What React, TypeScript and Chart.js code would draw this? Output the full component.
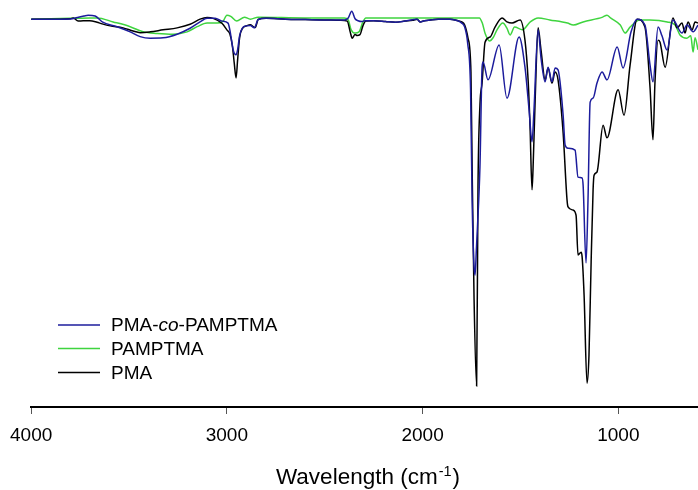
import { useEffect, useRef } from "react";
import { Chart, registerables } from "chart.js";

Chart.register(...registerables);

const FONT = '"Liberation Sans", Arial, Helvetica, sans-serif';

const xTicks = [4000, 3000, 2000, 1000];
const seriesNames = ["PMA-co-PAMPTMA", "PAMPTMA", "PMA"];
const seriesColors = ["#1c1c9c", "#3fd43f", "#000000"];
const axisTitle = "Wavelength (cm";
const axisTitleSup = "-1";

// PMA-co-PAMPTMA (blue)
const copolyWn = [
  4000, 3850, 3790, 3765, 3730, 3709, 3673, 3637, 3561, 3494, 3443, 3392, 3326, 3254, 3188, 3137,
  3101, 3060, 3024, 2994, 2983, 2968, 2953, 2945, 2935, 2920, 2900, 2880, 2860, 2840, 2800, 2700,
  2600, 2500, 2400, 2380, 2362, 2345, 2330, 2310, 2295, 2250, 2190, 2140, 2090, 2028, 2013, 1990,
  1920, 1860, 1820, 1800, 1785, 1770, 1755, 1747, 1738, 1732, 1725, 1720, 1707, 1696, 1691, 1666,
  1609, 1569, 1507, 1477, 1456, 1441, 1431, 1410, 1395, 1374, 1359, 1339, 1323, 1308, 1282, 1272,
  1257, 1221, 1206, 1185, 1180, 1165, 1155, 1144, 1129, 1109, 1083, 1058, 1006, 976, 935, 904,
  864, 838, 823, 797, 777, 751, 721, 675, 649, 618, 593,
];
const copolyT = [
  97.7, 97.7, 97.8, 98.1, 98.5, 98.7, 98.5, 97.0, 95.8, 94.5, 93.3, 92.9, 93.0, 93.9, 95.4, 97.0,
  97.9, 97.9, 97.2, 96.7, 94.5, 90.0, 88.7, 90.0, 93.5, 95.5, 96.0, 96.1, 95.5, 97.6, 97.9, 97.7,
  97.6, 97.5, 97.5, 98.0, 99.7, 97.8, 97.3, 97.1, 97.3, 97.3, 97.1, 96.9, 97.2, 97.7, 97.0, 97.3,
  97.7, 97.7, 97.3, 96.7, 95.7, 91.7, 80.0, 52.1, 36.0, 33.2, 40.0, 45.0, 60.5, 85.6, 86.9, 82.4,
  91.2, 77.8, 93.2, 85.6, 74.8, 66.8, 74.8, 95.0, 87.9, 81.9, 85.6, 81.9, 85.4, 84.9, 73.5, 66.0,
  65.2, 64.7, 57.9, 57.7, 55.9, 36.3, 52.1, 76.8, 77.8, 81.6, 84.4, 82.4, 90.7, 85.4, 94.5, 97.7,
  96.2, 86.1, 81.9, 95.7, 93.5, 89.9, 97.5, 94.2, 96.2, 94.5, 96.2,
];

// PAMPTMA (green)
const pamptmaWn = [
  4000, 3800, 3700, 3663, 3581, 3494, 3428, 3356, 3275, 3203, 3152, 3101, 3050, 3019, 3000, 2980,
  2950, 2910, 2880, 2840, 2600, 2400, 2380, 2365, 2345, 2325, 2305, 2290, 2000, 1820, 1710, 1695,
  1680, 1658, 1640, 1620, 1590, 1570, 1553, 1530, 1490, 1450, 1410, 1350, 1260, 1230, 1180, 1080,
  1058, 1040, 990, 965, 940, 890, 840, 750, 710, 685, 650, 630, 618, 608, 593,
];
const pamptmaT = [
  97.7, 97.9, 98.0, 98.0, 97.0, 95.8, 94.5, 94.1, 93.9, 94.5, 95.8, 96.7, 96.7, 97.2, 98.7, 98.4,
  97.2, 98.2, 97.7, 98.2, 98.0, 98.0, 97.5, 95.0, 94.2, 94.5, 97.0, 98.0, 98.0, 98.0, 98.0, 96.7,
  94.0, 92.2, 93.0, 95.0, 96.7, 95.5, 93.7, 95.7, 95.0, 97.0, 98.0, 97.5, 96.7, 96.2, 97.0, 98.2,
  98.7, 98.0, 96.2, 94.2, 95.7, 97.5, 97.5, 97.0, 96.2, 93.7, 92.9, 93.5, 89.4, 93.0, 90.0,
];

// PMA (black)
const pmaWn = [
  4000, 3850, 3800, 3785, 3760, 3734, 3700, 3663, 3637, 3596, 3530, 3479, 3443, 3392, 3326, 3254,
  3188, 3137, 3101, 3070, 3024, 3000, 2985, 2972, 2962, 2953, 2945, 2935, 2920, 2900, 2880, 2865,
  2855, 2840, 2800, 2700, 2600, 2500, 2420, 2385, 2370, 2360, 2345, 2335, 2320, 2305, 2290, 2250,
  2190, 2140, 2090, 2050, 2028, 2013, 1990, 1920, 1860, 1820, 1800, 1785, 1768, 1753, 1747, 1737,
  1724, 1717, 1707, 1696, 1681, 1655, 1630, 1594, 1569, 1543, 1502, 1477, 1461, 1451, 1441, 1436,
  1425, 1410, 1395, 1374, 1359, 1339, 1323, 1308, 1282, 1262, 1257, 1231, 1216, 1206, 1190, 1185,
  1175, 1160, 1150, 1139, 1129, 1124, 1109, 1078, 1058, 1001, 971, 940, 904, 864, 838, 823,
  813, 797, 787, 761, 721, 700, 675, 659, 644, 623, 608, 593,
];
const pmaT = [
  97.7, 97.7, 97.8, 98.0, 97.2, 97.3, 97.3, 96.9, 96.5, 96.0, 95.5, 94.7, 94.3, 94.5, 95.0, 95.5,
  96.4, 97.7, 98.1, 97.9, 96.6, 95.0, 94.0, 91.0, 86.5, 82.9, 87.5, 93.0, 95.4, 96.0, 96.3, 95.8,
  95.6, 97.6, 97.9, 97.7, 97.6, 97.5, 97.4, 97.2, 94.5, 92.9, 93.8, 93.6, 93.8, 96.0, 97.2, 97.3,
  97.1, 96.9, 97.2, 97.4, 97.7, 97.0, 97.3, 97.7, 97.7, 97.3, 97.0, 96.2, 92.9, 84.4, 60.5, 27.0,
  5.3, 55.4, 76.1, 81.6, 91.9, 93.2, 95.7, 98.0, 97.0, 96.7, 97.5, 92.4, 82.4, 70.5, 54.7, 59.7,
  77.3, 95.5, 89.9, 82.4, 85.4, 81.6, 84.4, 82.4, 69.0, 52.1, 50.4, 49.6, 48.3, 38.3, 39.0, 37.8,
  28.2, 6.0, 13.0, 36.5, 54.7, 58.4, 59.2, 71.0, 67.8, 79.9, 73.5, 86.1, 97.7, 95.7, 80.4, 67.3,
  81.6, 92.4, 91.9, 85.6, 98.0, 95.5, 96.7, 94.2, 97.0, 95.0, 97.0, 96.7,
];

const toPoints = (xs: number[], ys: number[]) => xs.map((x, i) => ({ x, y: ys[i] }));

const overlayPlugin = {
  id: "overlay",
  afterDraw(chart: any) {
    const ctx: CanvasRenderingContext2D = chart.ctx;
    ctx.save();
    // Legend
    const legendY = [325, 348.5, 372.5];
    seriesNames.forEach((name, i) => {
      const y = legendY[i];
      ctx.strokeStyle = seriesColors[i];
      ctx.lineWidth = 1.3;
      ctx.beginPath();
      ctx.moveTo(58, y);
      ctx.lineTo(100, y);
      ctx.stroke();
      ctx.fillStyle = "#000";
      ctx.textBaseline = "middle";
      ctx.textAlign = "left";
      let x = 111;
      const parts = name.split(/(-co-)/);
      const segs: [string, boolean][] = [];
      parts.forEach((p) => {
        if (p === "-co-") {
          segs.push(["-", false], ["co", true], ["-", false]);
        } else if (p) segs.push([p, false]);
      });
      segs.forEach(([t, it]) => {
        ctx.font = `${it ? "italic " : ""}19px ${FONT}`;
        ctx.fillText(t, x, y + 1);
        x += ctx.measureText(t).width;
      });
    });
    // Axis title with superscript
    ctx.fillStyle = "#000";
    ctx.textBaseline = "alphabetic";
    ctx.textAlign = "left";
    const bigFont = `22.5px ${FONT}`;
    const smallFont = `14.5px ${FONT}`;
    ctx.font = bigFont;
    const w1 = ctx.measureText(axisTitle).width;
    const w3 = ctx.measureText(")").width;
    ctx.font = smallFont;
    const w2 = ctx.measureText(axisTitleSup).width;
    const total = w1 + w2 + w3 + 2;
    let tx = 368 - total / 2;
    ctx.font = bigFont;
    ctx.fillText(axisTitle, tx, 484);
    tx += w1 + 1;
    ctx.font = smallFont;
    ctx.fillText(axisTitleSup, tx, 476);
    tx += w2 + 1;
    ctx.font = bigFont;
    ctx.fillText(")", tx, 484);
    ctx.restore();
  },
};

export default function App() {
  const ref = useRef<HTMLCanvasElement>(null);
  useEffect(() => {
    if (!ref.current) return;
    Chart.defaults.font.family = FONT;
    const common = {
      pointRadius: 0,
      pointHoverRadius: 0,
      borderWidth: 1.5,
      cubicInterpolationMode: "monotone" as const,
      fill: false,
    };
    const chart = new Chart(ref.current, {
      type: "line",
      data: {
        datasets: [
          { label: seriesNames[0], data: toPoints(copolyWn, copolyT), borderColor: seriesColors[0], ...common },
          { label: seriesNames[2], data: toPoints(pmaWn, pmaT), borderColor: seriesColors[2], ...common },
          { label: seriesNames[1], data: toPoints(pamptmaWn, pamptmaT), borderColor: seriesColors[1], ...common },
        ],
      },
      options: {
        responsive: false,
        animation: false,
        devicePixelRatio: 1,
        layout: { padding: { left: 30, right: 0, top: 10, bottom: 0 } },
        plugins: { legend: { display: false }, tooltip: { enabled: false }, title: { display: false } },
        scales: {
          x: {
            type: "linear",
            reverse: true,
            min: 593,
            max: 4000,
            afterBuildTicks: (s: any) => {
              s.ticks = xTicks.map((v) => ({ value: v }));
            },
            afterFit: (s: any) => {
              s.height = 83;
            },
            ticks: {
              font: { size: 19 },
              color: "#000",
              padding: 10,
              maxRotation: 0,
              autoSkip: false,
              callback: (v: any) => String(v),
            },
            grid: { drawOnChartArea: false, drawTicks: true, tickLength: 7, color: "#555", lineWidth: 1 },
            border: { display: true, color: "#000", width: 2 },
          },
          y: { display: false, min: 0, max: 100 },
        },
      },
      plugins: [overlayPlugin],
    });
    return () => chart.destroy();
  }, []);
  return (
    <div style={{ position: "absolute", left: 0, top: 0, width: 698, height: 490, background: "#fff" }}>
      <canvas ref={ref} width={698} height={490} style={{ display: "block" }} />
    </div>
  );
}
